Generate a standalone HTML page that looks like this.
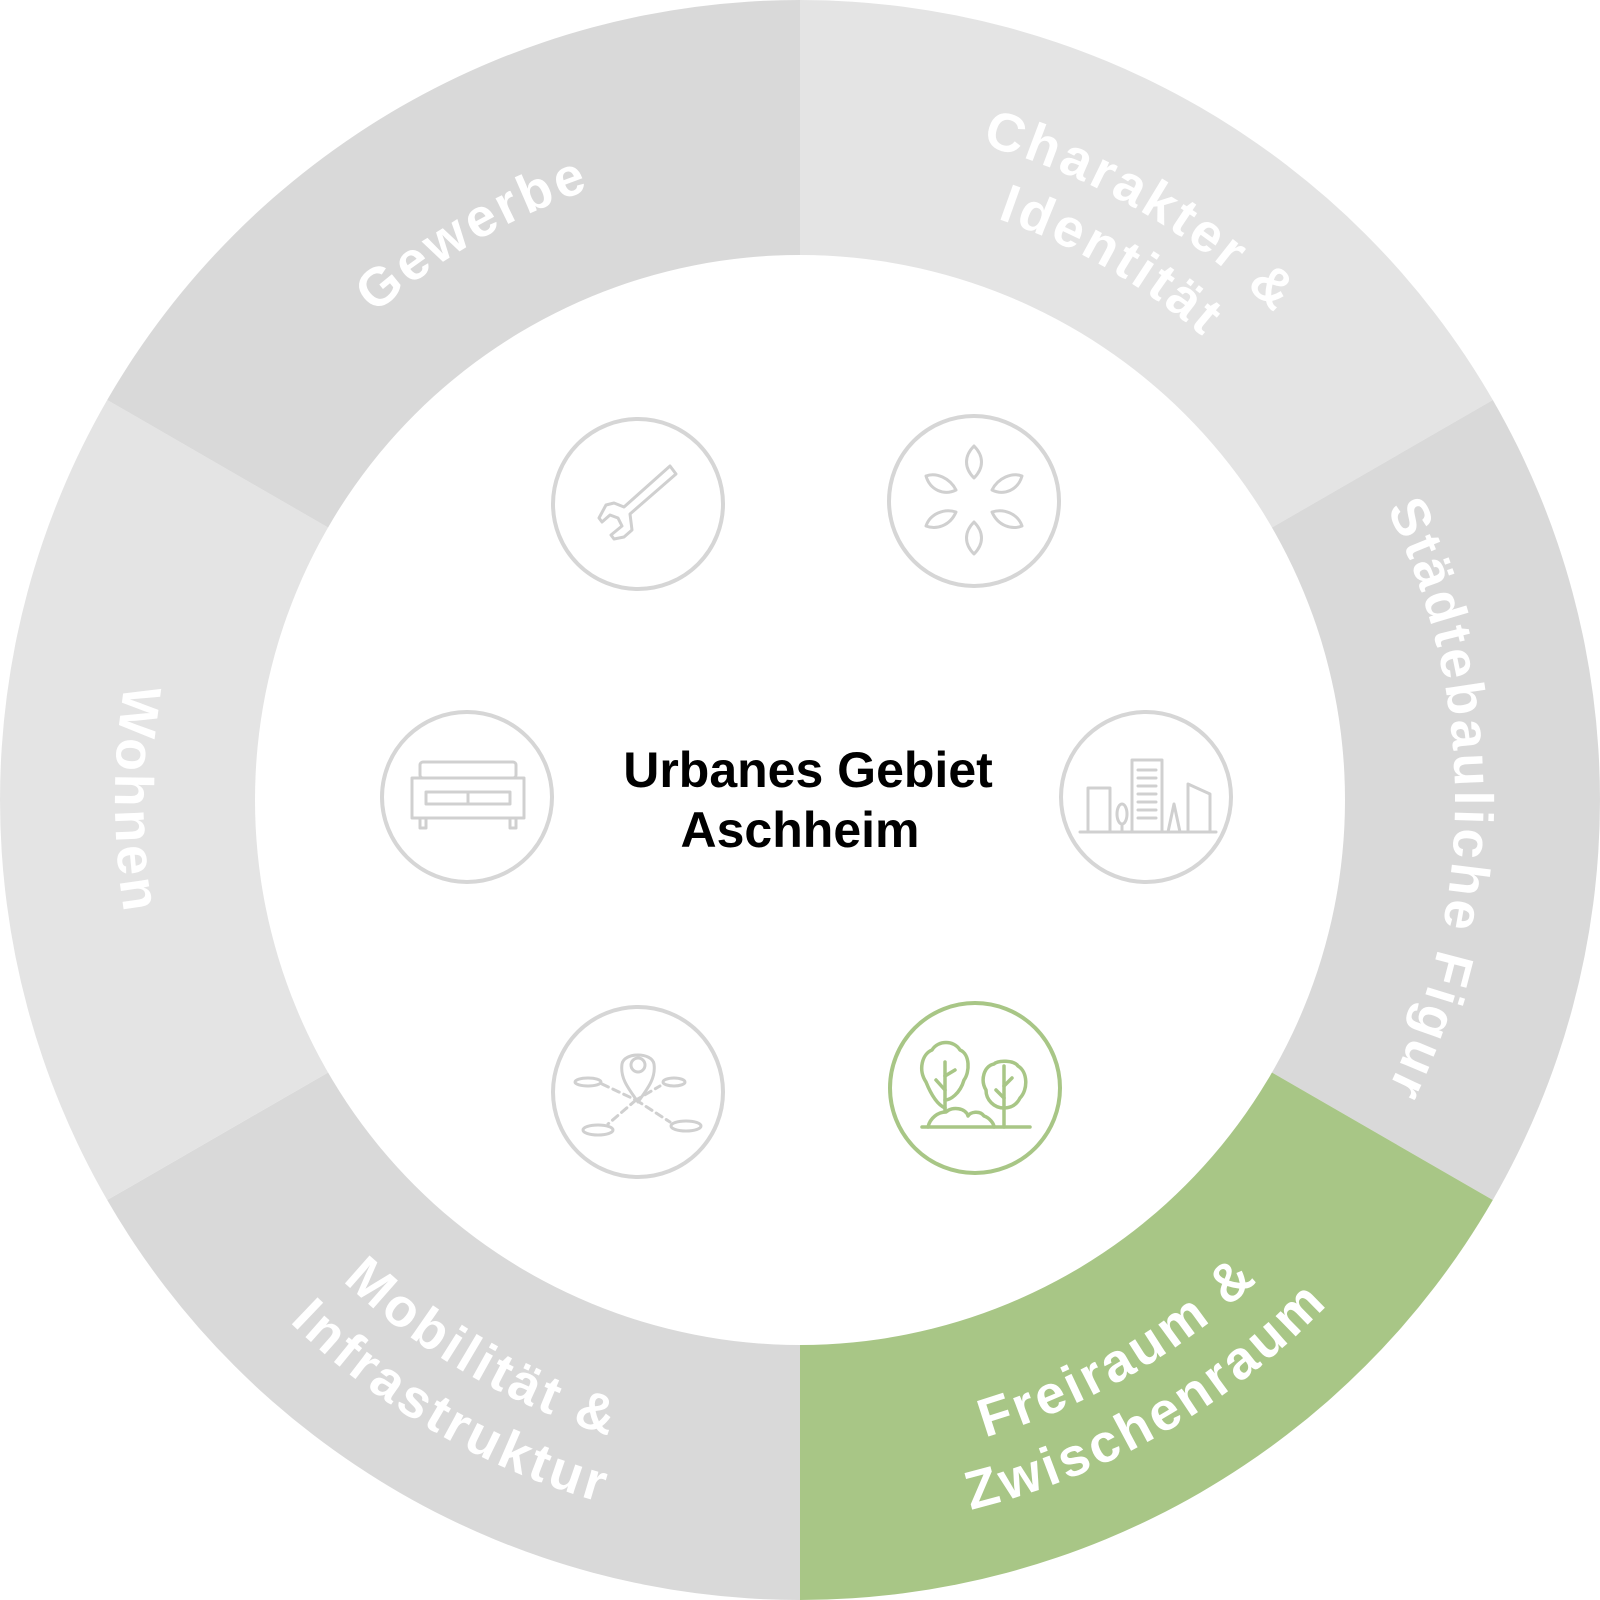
<!DOCTYPE html>
<html><head><meta charset="utf-8"><style>
html,body{margin:0;padding:0;background:#fff;}
svg{display:block;}
.lbl{font-family:"Liberation Sans",sans-serif;font-weight:bold;font-size:54px;fill:#fff;letter-spacing:3.5px;}
.ic{fill:none;stroke:#d6d6d6;stroke-width:4;}
.ii{fill:none;stroke:#d0d0d0;stroke-width:3;stroke-linecap:round;stroke-linejoin:round;}
.gi{fill:none;stroke:#a8c686;stroke-width:3.5;stroke-linecap:round;stroke-linejoin:round;}
</style></head><body>
<svg width="1600" height="1600" viewBox="0 0 1600 1600" xmlns="http://www.w3.org/2000/svg">
<defs>
<path id="pGew" d="M237.1,1125 A650,650 0 0 1 1362.9,475"/>
<path id="pCh1" d="M211.1,460 A680,680 0 0 1 1388.9,1140"/>
<path id="pCh2" d="M263.1,490 A620,620 0 0 1 1336.9,1110"/>
<path id="pSt" d="M800,145 A655,655 0 0 1 800,1455"/>
<path id="pFr1" d="M219.8,1135 A670,670 0 0 0 1380.2,465"/>
<path id="pFr2" d="M167.8,1165 A730,730 0 0 0 1432.2,435"/>
<path id="pMo1" d="M219.8,465 A670,670 0 0 0 1380.2,1135"/>
<path id="pMo2" d="M167.8,435 A730,730 0 0 0 1432.2,1165"/>
<path id="pWo" d="M800,115 A685,685 0 0 0 800,1485"/>
</defs>
<path d="M800,800 L800,0 A800,800 0 0 1 1492.8,400 Z" fill="#e4e4e4"/>
<path d="M800,800 L1492.8,400 A800,800 0 0 1 1492.8,1200 Z" fill="#d9d9d9"/>
<path d="M800,800 L1492.8,1200 A800,800 0 0 1 800,1600 Z" fill="#a8c686"/>
<path d="M800,800 L800,1600 A800,800 0 0 1 107.2,1200 Z" fill="#d9d9d9"/>
<path d="M800,800 L107.2,1200 A800,800 0 0 1 107.2,400 Z" fill="#e4e4e4"/>
<path d="M800,800 L107.2,400 A800,800 0 0 1 800,0 Z" fill="#d9d9d9"/>
<circle cx="800" cy="800" r="545" fill="#fff"/>

<text class="lbl"><textPath href="#pGew" startOffset="50%" text-anchor="middle">Gewerbe</textPath></text>
<text class="lbl"><textPath href="#pCh1" startOffset="50%" text-anchor="middle">Charakter &amp;</textPath></text>
<text class="lbl"><textPath href="#pCh2" startOffset="50%" text-anchor="middle">Identität</textPath></text>
<text class="lbl"><textPath href="#pSt" startOffset="50%" text-anchor="middle">Städtebauliche Figur</textPath></text>
<text class="lbl"><textPath href="#pFr1" startOffset="50%" text-anchor="middle">Freiraum &amp;</textPath></text>
<text class="lbl"><textPath href="#pFr2" startOffset="50%" text-anchor="middle">Zwischenraum</textPath></text>
<text class="lbl"><textPath href="#pMo1" startOffset="50%" text-anchor="middle">Mobilität &amp;</textPath></text>
<text class="lbl"><textPath href="#pMo2" startOffset="50%" text-anchor="middle">Infrastruktur</textPath></text>
<text class="lbl"><textPath href="#pWo" startOffset="50%" text-anchor="middle">Wohnen</textPath></text>

<text x="808" y="787" text-anchor="middle" font-family="Liberation Sans,sans-serif" font-weight="bold" font-size="50" fill="#000">Urbanes Gebiet</text>
<text x="800" y="847" text-anchor="middle" font-family="Liberation Sans,sans-serif" font-weight="bold" font-size="50" fill="#000">Aschheim</text>

<circle class="ic" cx="638" cy="504" r="85"/>
<circle class="ic" cx="974" cy="501" r="85"/>
<circle class="ic" cx="467" cy="797" r="85"/>
<circle class="ic" cx="1146" cy="797" r="85"/>
<circle class="ic" cx="638" cy="1092" r="85"/>
<circle cx="975" cy="1088" r="85" fill="none" stroke="#a8c686" stroke-width="4"/>

<path class="ii" d="M670,466 L676,474 L630,514 L632,530 L624,537 L614,539 L611,535 L622,526 L618,518 L610,515 L602,522 L599,518 L606,505 L614,503 L624,507 Z"/>
<g class="ii">
<path d="M974,446 C964,456 964,468 974,478 C984,468 984,456 974,446 Z"/>
<path d="M974,522 C964,532 964,544 974,554 C984,544 984,532 974,522 Z"/>
<path d="M926,476 C936,472 950,478 956,490 C944,496 930,490 926,476 Z"/>
<path d="M1022,476 C1012,472 998,478 992,490 C1004,496 1018,490 1022,476 Z"/>
<path d="M926,526 C930,514 944,508 956,512 C950,526 936,530 926,526 Z"/>
<path d="M1022,526 C1018,514 1004,508 992,512 C998,526 1012,530 1022,526 Z"/>
</g>
<g class="ii">
<rect x="420" y="762" width="96" height="16" rx="3"/>
<rect x="412" y="778" width="112" height="40"/>
<rect x="426" y="792" width="84" height="12"/>
<line x1="468" y1="792" x2="468" y2="804"/>
<rect x="420" y="818" width="6" height="10"/><rect x="510" y="818" width="6" height="10"/>
</g>
<g class="ii">
<line x1="1080" y1="832" x2="1216" y2="832"/>
<rect x="1088" y="788" width="22" height="44"/>
<rect x="1132" y="760" width="30" height="72"/>
<line x1="1138" y1="770" x2="1156" y2="770"/><line x1="1138" y1="778" x2="1156" y2="778"/><line x1="1138" y1="786" x2="1156" y2="786"/><line x1="1138" y1="794" x2="1156" y2="794"/><line x1="1138" y1="802" x2="1156" y2="802"/><line x1="1138" y1="810" x2="1156" y2="810"/><line x1="1138" y1="818" x2="1156" y2="818"/>
<path d="M1188,832 L1188,784 L1210,794 L1210,832"/>
<ellipse cx="1122" cy="814" rx="5" ry="10"/><line x1="1122" y1="824" x2="1122" y2="832"/>
<path d="M1168,832 L1174,804 L1180,832 Z"/>
</g>
<g class="ii">
<path d="M638,1102 C628,1088 620,1078 622,1064 C624,1052 652,1052 654,1064 C656,1078 648,1088 638,1102 Z"/>
<circle cx="638" cy="1065" r="7"/>
<ellipse cx="588" cy="1082" rx="13" ry="4"/><ellipse cx="674" cy="1082" rx="11" ry="4"/>
<ellipse cx="598" cy="1130" rx="15" ry="5"/><ellipse cx="686" cy="1126" rx="15" ry="5"/>
<path d="M602,1084 L636,1100 L660,1086 M636,1100 L608,1124 M636,1100 L670,1122" stroke-dasharray="7 5"/>
</g>
<g class="gi">
<line x1="922" y1="1127" x2="1030" y2="1127"/>
<path d="M945,1108 C936,1104 930,1092 926,1082 C918,1070 922,1054 932,1050 C938,1040 954,1040 960,1050 C970,1054 970,1072 964,1080 C960,1094 950,1100 945,1100"/>
<line x1="945" y1="1062" x2="945" y2="1110"/><line x1="936" y1="1080" x2="945" y2="1090"/><line x1="945" y1="1076" x2="955" y2="1070"/>
<path d="M928,1127 C930,1118 938,1112 946,1112 C952,1106 966,1108 968,1116 C970,1112 980,1110 984,1116 C990,1118 994,1124 994,1127"/>
<path d="M1004,1127 L1004,1066"/><line x1="996" y1="1090" x2="1004" y2="1098"/><line x1="1004" y1="1086" x2="1012" y2="1078"/>
<path d="M1004,1108 C994,1108 986,1100 986,1090 C980,1080 984,1066 994,1064 C998,1060 1014,1060 1018,1066 C1028,1072 1028,1090 1020,1098 C1016,1106 1010,1108 1004,1108"/>
</g>
</svg>
</body></html>
